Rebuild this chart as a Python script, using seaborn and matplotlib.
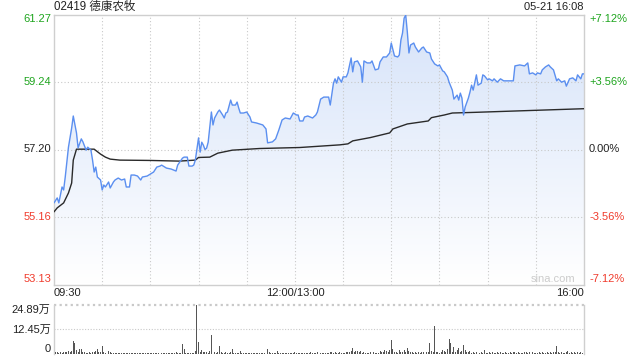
import numpy as np
import pandas as pd
import matplotlib
matplotlib.use("Agg")
import matplotlib.pyplot as plt
import matplotlib.transforms as mtransforms
import seaborn as sns

# ---------------- data ----------------
title = "02419 德康农牧"
stamp = "05-21 16:08"
prev_close = 57.20
price_ticks = [53.13, 55.16, 57.20, 59.24, 61.27]
pct_labels = ["-7.12%", "-3.56%", "0.00%", "+3.56%", "+7.12%"]
time_ticks = [0, 150, 330]
time_labels = ["09:30", "12:00/13:00", "16:00"]
vol_ticks = [0, 12.45, 24.89]
vol_labels = ["0", "12.45万", "24.89万"]

price_min = [0, 2, 3, 5, 6, 7, 8, 9, 11, 12, 14, 15, 17, 18, 20, 21, 23, 24, 25, 26,
             27, 29, 30, 31, 32, 34, 35, 37, 38, 40, 42, 44, 45, 47, 48, 50, 52, 54, 55, 58,
             60, 62, 64, 66, 67, 70, 73, 76, 77, 80, 81, 83, 84, 86, 87, 88, 90, 91, 92, 93,
             94, 95, 96, 97, 98, 99, 100, 102, 103, 105, 106, 107, 108, 110, 111, 113, 114, 115, 116, 118,
             120, 122, 123, 126, 130, 131, 132, 133, 136, 138, 140, 142, 144, 147, 149, 151, 152, 153, 155, 156,
             158, 161, 163, 164, 166, 168, 171, 172, 174, 175, 176, 177, 179, 180, 182, 183, 185, 186, 187, 189,
             191, 192, 193, 195, 197, 198, 200, 202, 203, 205, 207, 209, 210, 212, 214, 215, 216, 217, 218, 219,
             220, 221, 222, 224, 225, 227, 229, 230, 232, 234, 235, 237, 239, 240, 242, 243, 245, 246, 248, 249,
             251, 252, 253, 254, 255, 256, 258, 259, 260, 261, 263, 264, 266, 267, 268, 270, 271, 273, 274, 276,
             278, 280, 286, 287, 290, 293, 295, 296, 298, 300, 301, 303, 304, 306, 308, 309, 311, 313, 314, 316,
             318, 319, 321, 323, 325, 326, 328, 329, 330]
price_val = [55.59, 55.74, 55.59, 56.07, 55.98, 56.37, 56.82, 57.27, 57.85, 58.21, 57.70, 57.25, 57.52, 57.43, 57.18, 57.27, 57.18, 56.88, 56.52, 56.67,
             56.37, 56.28, 55.98, 56.13, 56.07, 56.22, 56.04, 56.22, 56.28, 56.34, 56.28, 56.31, 56.07, 56.07, 56.43, 56.43, 56.40, 56.28, 56.37, 56.40,
             56.46, 56.52, 56.67, 56.70, 56.73, 56.64, 56.61, 56.55, 56.73, 56.94, 56.97, 56.97, 56.70, 56.70, 56.73, 56.88, 57.55, 57.12, 57.42, 57.33,
             57.20, 57.24, 57.42, 57.88, 58.33, 57.94, 58.15, 58.33, 58.39, 58.24, 58.15, 58.30, 58.33, 58.69, 58.54, 58.54, 58.63, 58.45, 58.30, 58.30,
             58.33, 58.18, 58.03, 58.00, 57.94, 57.88, 57.82, 57.40, 57.43, 57.52, 57.79, 58.09, 58.15, 58.12, 58.30, 58.24, 58.24, 58.06, 58.06, 58.18,
             58.21, 58.15, 58.24, 58.33, 58.72, 58.78, 58.78, 58.54, 59.20, 59.33, 59.20, 59.39, 59.23, 59.39, 59.39, 59.51, 59.96, 59.54, 59.84, 59.87,
             59.69, 59.23, 59.87, 59.81, 59.81, 59.87, 59.60, 59.63, 59.84, 59.99, 59.99, 60.11, 60.41, 60.02, 59.99, 60.05, 60.50, 60.71, 61.16, 61.25,
             60.74, 60.11, 60.35, 60.41, 60.29, 60.14, 60.26, 60.29, 60.14, 60.11, 59.93, 59.78, 59.72, 59.75, 59.57, 59.54, 59.39, 59.23, 58.99, 58.72,
             58.84, 58.69, 58.90, 58.75, 58.24, 58.48, 58.75, 58.93, 59.14, 58.99, 59.45, 59.14, 59.20, 59.45, 59.42, 59.30, 59.33, 59.27, 59.33, 59.23,
             59.33, 59.27, 59.27, 59.72, 59.75, 59.72, 59.81, 59.48, 59.51, 59.45, 59.51, 59.48, 59.60, 59.69, 59.75, 59.69, 59.60, 59.27, 59.33, 59.23,
             59.27, 59.11, 59.33, 59.36, 59.27, 59.45, 59.33, 59.48, 59.48]

avg_min = [0, 2, 6, 9, 11, 12, 14, 25, 29, 32, 35, 41, 60, 78, 88, 90, 97, 102, 111, 128,
           153, 178, 183, 186, 197, 209, 211, 220, 233, 235, 243, 248, 262, 330]
avg_val = [55.32, 55.44, 55.59, 55.89, 56.19, 56.88, 57.21, 57.21, 57.06, 56.97, 56.91, 56.88, 56.87, 56.85, 56.88, 56.96, 56.97, 57.09, 57.18, 57.23,
           57.26, 57.34, 57.37, 57.46, 57.56, 57.70, 57.82, 57.97, 58.06, 58.16, 58.24, 58.30, 58.32, 58.43]

# volume per minute, in 万 shares (index = minutes after 09:30, lunch removed)
volume = [1.5, 0.8, 1.0, 0.6, 0.9, 0.7, 1.2, 0.8, 1.1, 1.4, 1.0, 1.6, 6.5, 5.5, 2.0, 1.2, 2.5, 2.4, 0.8, 1.0,
          0.6, 0.5, 0.8, 0.7, 1.1, 0.9, 1.3, 2.5, 1.0, 0.8,
          4.0, 1.2, 0.7, 1.0, 1.6, 0.8, 0.4, 0.5, 0.6, 0.3, 0.5, 0.4, 0.6, 0.3, 0.5, 0.7, 0.4, 0.3, 0.5, 0.6,
          0.4, 0.3, 0.6, 0.5, 0.4, 0.3, 0.5, 0.4, 0.6, 0.3,
          0.5, 0.4, 0.3, 0.6, 0.5, 0.4, 0.3, 0.5, 0.6, 0.4, 0.3, 0.5, 0.4, 0.6, 0.3, 0.5, 0.8, 0.4, 0.6, 0.7,
          5.0, 2.5, 0.6, 0.5, 0.4, 0.6, 0.5, 0.7, 1.5, 24.89,
          6.0, 1.0, 2.0, 0.8, 0.9, 1.2, 0.7, 1.4, 9.7, 1.5, 0.8, 0.6, 1.0, 4.0, 1.2, 0.6, 0.5, 0.8, 0.4, 0.6,
          0.9, 2.5, 0.7, 0.5, 0.6, 0.4, 1.5, 0.5, 0.4, 0.6,
          0.5, 0.3, 0.6, 0.4, 0.5, 0.3, 0.6, 0.4, 0.5, 0.7, 0.4, 0.6, 0.9, 2.5, 0.8, 0.5, 0.6, 0.4, 0.7, 1.5,
          0.6, 0.4, 0.5, 0.3, 0.6, 0.4, 0.5, 0.3, 0.6, 0.4,
          0.8, 0.5, 0.3, 0.6, 0.4, 0.5, 0.7, 0.4, 0.6, 0.5, 0.8, 0.4, 0.6, 0.5, 0.9, 1.2, 0.6, 0.5, 0.7, 0.4,
          0.6, 0.5, 1.0, 0.8, 0.6, 1.1, 0.7, 0.5, 0.9, 0.6,
          0.7, 0.5, 1.0, 0.8, 1.2, 1.5, 3.3, 1.0, 1.4, 1.6, 0.8, 1.7, 0.6, 0.9, 0.5, 0.7, 0.6, 0.8, 0.5, 0.9,
          0.6, 0.7, 0.5, 1.5, 1.2, 0.8, 2.0, 1.5, 1.0, 1.8,
          6.9, 2.5, 0.8, 1.2, 0.7, 1.8, 1.2, 0.9, 2.2, 1.0, 3.0, 1.5, 0.9, 1.1, 0.7, 0.8, 0.6, 0.9, 0.7, 1.0,
          0.8, 0.6, 1.2, 0.9, 5.5, 1.4, 0.8, 14.3, 1.2, 0.9,
          0.7, 1.0, 2.0, 1.5, 0.8, 2.5, 7.8, 5.7, 1.2, 3.5, 1.0, 2.0, 3.0, 1.2, 1.5, 4.7, 2.0, 1.0, 0.8, 1.3,
          0.6, 0.9, 0.5, 1.2, 0.7, 0.5, 0.8, 0.6, 2.0, 0.7,
          0.5, 0.8, 0.6, 1.0, 0.5, 0.7, 0.9, 0.6, 0.8, 0.5, 0.7, 1.0, 0.6, 0.5, 0.8, 0.6, 1.2, 0.8, 0.6, 0.9,
          0.5, 0.7, 0.6, 1.0, 0.8, 0.6, 0.9, 0.5, 0.8, 0.6,
          0.7, 0.5, 0.9, 0.6, 0.8, 0.5, 0.7, 1.0, 0.6, 0.8, 0.5, 0.9, 1.0, 4.0, 0.8, 0.6, 1.2, 0.7, 0.5, 0.9,
          1.5, 0.6, 0.8, 0.5, 0.9, 0.7, 1.2, 0.6, 0.8, 0.5, 1.0]

# ---------------- style ----------------
sns.set_theme(style="white")
plt.rcParams['font.family'] = ['Liberation Sans', 'Noto Sans CJK SC', 'DejaVu Sans']

GREEN = "#1ea51e"
RED = "#f03c2d"
DARK = "#222222"
GRID = "#c9c9c9"
FRAME = "#cfcfcf"
LINE = "#5b8ff0"

fig = plt.figure(figsize=(6.4, 3.6), dpi=100)
W, H = 640, 360
L, R = 54, 584
ax = fig.add_axes([L / W, 1 - 284.5 / H, (R - L) / W, (284.5 - 14.5) / H])
axv = fig.add_axes([L / W, 1 - 354 / H, (R - L) / W, (354 - 305) / H])

# ---------------- price panel ----------------
ymin, ymax = price_ticks[0], price_ticks[-1]
ax.set_xlim(0, 330)
ax.set_ylim(ymin, ymax)

df_p = pd.DataFrame({"minute": price_min, "price": price_val})
df_a = pd.DataFrame({"minute": avg_min, "price": avg_val})

# gradient fill under price line
fill = ax.fill_between(df_p["minute"], df_p["price"], ymin, color="none", lw=0)
grad = np.linspace(0, 1, 256).reshape(-1, 1)
cmap = matplotlib.colors.LinearSegmentedColormap.from_list("g", ["#ffffff", "#d6e3f9"])
im = ax.imshow(grad, aspect="auto", cmap=cmap, origin="lower",
               extent=[0, 330, ymin, ymax], zorder=1, interpolation="bilinear")
im.set_clip_path(fill.get_paths()[0], transform=ax.transData)

# grid
for xv in range(30, 330, 30):
    ax.axvline(xv, color=GRID, lw=0.8, ls=(0, (1, 2)), zorder=2)
for yv in price_ticks[1:-1]:
    ax.axhline(yv, color=GRID, lw=0.8, ls=(0, (1, 2)), zorder=2)

sns.lineplot(data=df_p, x="minute", y="price", ax=ax, color=LINE, lw=1.0,
             estimator=None, sort=False, zorder=4)
sns.lineplot(data=df_a, x="minute", y="price", ax=ax, color="#2a2a2a", lw=1.0,
             estimator=None, sort=False, zorder=3)

ax.set_xticks([]); ax.set_yticks([])
ax.set_xlabel(""); ax.set_ylabel("")
for s in ax.spines.values():
    s.set_color(FRAME); s.set_linewidth(1.0)

fs = 8
trans_l = mtransforms.blended_transform_factory(fig.transFigure, ax.transData)
for i, (v, pl) in enumerate(zip(price_ticks, pct_labels)):
    col = GREEN if v > prev_close + 0.01 else (RED if v < prev_close - 0.01 else DARK)
    va = "center"
    if i == 0:
        va = "bottom"
    elif i == len(price_ticks) - 1:
        va = "top"
    ax.text(51.5 / W, v, f"{v:.2f}", transform=trans_l, ha="right", va=va,
            color=col, fontsize=fs)
    ax.text(589 / W, v, pl, transform=trans_l, ha="left", va=va,
            color=col, fontsize=fs)

fig.text(L / W, 1 - 7 / H, title, ha="left", va="center", fontsize=8.3, color=DARK)
fig.text(R / W, 1 - 7 / H, stamp, ha="right", va="center", fontsize=8, color=DARK)

trans_x = mtransforms.blended_transform_factory(ax.transData, fig.transFigure)
aligns = ["left", "center", "right"]
for t, lab, a in zip(time_ticks, time_labels, aligns):
    ax.text(t, 1 - 293.5 / H, lab, transform=trans_x, ha=a, va="center",
            fontsize=fs, color=DARK)

fig.text(553 / W, 1 - 279 / H, "sina.com", ha="center", va="center",
         fontsize=8, color="#cccccc")

# ---------------- volume panel ----------------
vol_x = np.arange(len(volume))
axv.bar(vol_x, volume, width=0.6, color="#555555", lw=0, zorder=3)
axv.set_xlim(0, 330)
axv.set_ylim(0, vol_ticks[-1])
axv.axhline(vol_ticks[1], color=GRID, lw=0.8, ls=(0, (1, 1.5)), zorder=1)
axv.axhline(vol_ticks[2], color=GRID, lw=1.6, ls=(0, (1, 1.5)), zorder=1, clip_on=False)
axv.set_xticks([]); axv.set_yticks([])
for k, s in axv.spines.items():
    s.set_color(FRAME); s.set_linewidth(1.0)
axv.spines["top"].set_visible(False)
axv.spines["bottom"].set_visible(False)

trans_v = mtransforms.blended_transform_factory(fig.transFigure, axv.transData)
for v, lab, va in zip(vol_ticks, vol_labels, ["bottom", "center", "top"]):
    axv.text(50.5 / W, v, lab, transform=trans_v, ha="right", va=va,
             fontsize=fs, color=DARK)

fig.savefig("out.png", dpi=100)
